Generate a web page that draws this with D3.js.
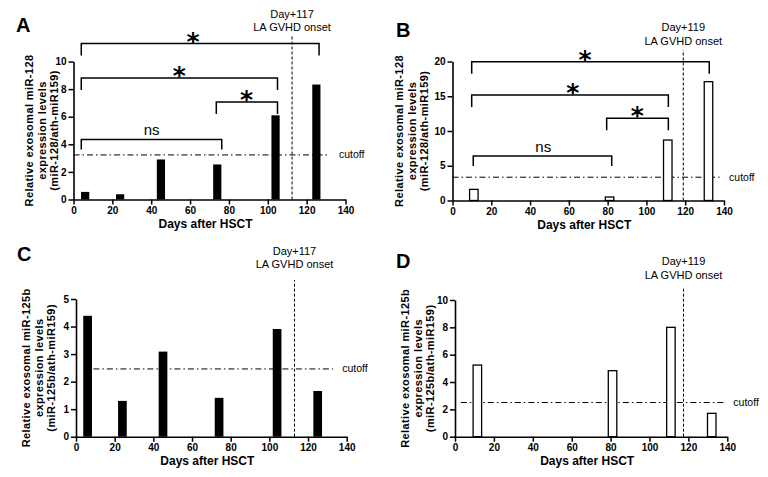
<!DOCTYPE html>
<html><head><meta charset="utf-8">
<script src="https://cdn.jsdelivr.net/npm/d3@7"></script>
<style>
body{margin:0;background:#fff}
svg{display:block}
text{font-family:"Liberation Sans",Arial,Helvetica,sans-serif;fill:#000}
</style>
</head><body>
<svg id="chart" width="768" height="477"></svg>
<script>
// ---------- data ----------
const xTicks = [0, 20, 40, 60, 80, 100, 120, 140];

const daysA = [6, 24, 45, 74, 104, 125];
const valuesA = [0.55, 0.38, 2.9, 2.54, 6.1, 8.33];
const yTicksA = [0, 2, 4, 6, 8, 10];
const cutoffA = 3.23;
const onsetDayA = 112.5;
const onsetLabelA = ["Day+117", "LA GVHD onset"];
const yTitleA = ["Relative exosomal miR-128", "expression levels", "(miR-128/ath-miR159)"];
const bracketsA = [
  {from: 4, to: 126.4, y: 11.3, label: "*", at: 61.5},
  {from: 4, to: 105, y: 8.8, label: "*", at: 54.5},
  {from: 73.5, to: 105, y: 7.07, label: "*", at: 89},
  {from: 4, to: 76.3, y: 4.35, label: "ns", at: 40.2}
];

const daysB = [11, 81, 111, 132];
const valuesB = [1.6, 0.5, 8.7, 17.1];
const yTicksB = [0, 5, 10, 15, 20];
const cutoffB = 3.35;
const onsetDayB = 119;
const onsetLabelB = ["Day+119", "LA GVHD onset"];
const yTitleB = ["Relative exosomal miR-128", "expression levels", "(miR-128/ath-miR159)"];
const bracketsB = [
  {from: 9.9, to: 132.4, y: 19.97, label: "*", at: 68.3},
  {from: 9.9, to: 111.3, y: 15.18, label: "*", at: 62},
  {from: 79.5, to: 111.3, y: 11.83, label: "*", at: 95.3},
  {from: 10.7, to: 82.1, y: 6.4, label: "ns", at: 46.8}
];

const daysC = [6, 24, 45, 74, 104, 125];
const valuesC = [4.39, 1.30, 3.09, 1.41, 3.91, 1.66];
const yTicksC = [0, 1, 2, 3, 4, 5];
const cutoffC = 2.46;
const onsetDayC = 113;
const onsetLabelC = ["Day+117", "LA GVHD onset"];
const yTitleC = ["Relative exosomal miR-125b", "expression levels", "(miR-125b/ath-miR159)"];

const daysD = [11.5, 81, 111, 132];
const valuesD = [5.24, 4.83, 8.0, 1.71];
const yTicksD = [0, 2, 4, 6, 8, 10];
const cutoffD = 2.5;
const onsetDayD = 117.5;
const onsetLabelD = ["Day+119", "LA GVHD onset"];
const yTitleD = ["Relative exosomal miR-125b", "expression levels", "(miR-125b/ath-miR159)"];

const xTitle = "Days after HSCT";
const cutoffLabel = "cutoff";

// ---------- drawing ----------
const svg = d3.select("#chart");
svg.append("rect").attr("width", 768).attr("height", 477).attr("fill", "#fff");

function panel(o) {
  const g = svg.append("g");
  const x = d3.scaleLinear().domain([0, 140]).range([o.x0, o.x1]);
  const y = d3.scaleLinear().domain([0, o.yTicks[o.yTicks.length - 1]]).range([o.y0, o.yTop]);

  // cutoff line
  g.append("line")
    .attr("x1", x(o.cutFrom)).attr("x2", x(o.cutTo))
    .attr("y1", y(o.cutoff)).attr("y2", y(o.cutoff))
    .attr("stroke", "#000").attr("stroke-width", 1)
    .attr("stroke-dasharray", "6,3,1.5,3");
  g.append("text").attr("x", x(o.cutTo) + o.cutTextGap).attr("y", y(o.cutoff) + 3.5)
    .attr("font-size", 10.5).text(cutoffLabel);

  // onset line
  g.append("line")
    .attr("x1", x(o.onset)).attr("x2", x(o.onset))
    .attr("y1", o.y0).attr("y2", o.vTop)
    .attr("stroke", "#000").attr("stroke-width", 1)
    .attr("stroke-dasharray", "3,2");
  o.onsetLabel.forEach((t, i) => {
    g.append("text").attr("x", x(o.onset)).attr("y", o.onsetY[i])
      .attr("text-anchor", "middle").attr("font-size", 11).text(t);
  });

  // bars
  const rows = o.days.map((d, i) => ({d, v: o.values[i]}));
  g.selectAll("rect.bar").data(rows).join("rect").attr("class", "bar")
    .attr("x", r => x(r.d) - o.bw / 2).attr("width", o.bw)
    .attr("y", r => y(r.v)).attr("height", r => y(0) - y(r.v))
    .attr("fill", o.fill)
    .attr("stroke", "#000").attr("stroke-width", o.fill === "#000" ? 0 : 1.3);

  // axes
  const fmt = d3.format("d");
  const xa = d3.axisBottom(x).tickValues(xTicks).tickFormat(fmt).tickSize(5).tickPadding(2).tickSizeOuter(0);
  const ya = d3.axisLeft(y).tickValues(o.yTicks).tickFormat(fmt).tickSize(5).tickPadding(2).tickSizeOuter(0);
  const gx = g.append("g").attr("transform", `translate(0,${o.y0})`).call(xa);
  const gy = g.append("g").attr("transform", `translate(${o.x0},0)`).call(ya);
  [gx, gy].forEach(a => {
    a.select(".domain").attr("stroke", "#000").attr("stroke-width", 1.6);
    a.selectAll(".tick line").attr("stroke", "#000").attr("stroke-width", 1.5);
    a.selectAll(".tick text").attr("font-size", 10).attr("font-weight", "bold")
      .attr("fill", "#000").style("font-family", '"Liberation Sans",Arial,sans-serif');
  });

  // axis titles
  g.append("text").attr("x", (o.x0 + o.x1) / 2 - 4).attr("y", o.y0 + 28)
    .attr("text-anchor", "middle").attr("font-size", 12).attr("font-weight", "bold").text(xTitle);
  const cy = (o.y0 + o.yTop) / 2;
  o.yTitle.forEach((t, i) => {
    g.append("text").attr("transform", `translate(${o.yTitleX + i * 12.5},${cy}) rotate(-90)`)
      .attr("text-anchor", "middle").attr("font-size", 11).attr("font-weight", "bold")
      .attr("letter-spacing", 0.4).text(t);
  });

  // panel letter
  g.append("text").attr("x", o.letterX).attr("y", o.letterY)
    .attr("font-size", 20).attr("font-weight", "bold").text(o.letter);

  // brackets
  (o.brackets || []).forEach(b => {
    const yy = y(b.y);
    const drop = b.label === "*" ? 12 : 10;
    g.append("path")
      .attr("d", `M${x(b.from)},${yy + drop}V${yy}H${x(b.to)}V${yy + drop}`)
      .attr("fill", "none").attr("stroke", "#000").attr("stroke-width", 1.5);
    if (b.label === "*") {
      g.append("text").attr("x", x(b.at)).attr("y", yy + 6)
        .attr("text-anchor", "middle").attr("font-size", 25).attr("font-weight", "bold")
        .style("font-family", '"DejaVu Sans",sans-serif').text(b.label);
    } else {
      g.append("text").attr("x", x(b.at)).attr("y", yy - 4)
        .attr("text-anchor", "middle").attr("font-size", 15).text(b.label);
    }
  });
}

panel({letter: "A", letterX: 16, letterY: 32,
  x0: 73.5, x1: 345.5, y0: 199.5, yTop: 61.5, yTicks: yTicksA,
  days: daysA, values: valuesA, fill: "#000", bw: 8.2,
  cutoff: cutoffA, cutFrom: 0, cutTo: 132, cutTextGap: 9,
  onset: onsetDayA, onsetLabel: onsetLabelA, onsetY: [18, 31], vTop: 36,
  yTitle: yTitleA, yTitleX: 33, brackets: bracketsA});

panel({letter: "B", letterX: 396, letterY: 36.5,
  x0: 452.5, x1: 724, y0: 200.5, yTop: 61.5, yTicks: yTicksB,
  days: daysB, values: valuesB, fill: "#fff", bw: 8.5,
  cutoff: cutoffB, cutFrom: 0, cutTo: 139, cutTextGap: 7,
  onset: onsetDayB, onsetLabel: onsetLabelB, onsetY: [30.5, 44.5], vTop: 50,
  yTitle: yTitleB, yTitleX: 403, brackets: bracketsB});

panel({letter: "C", letterX: 17, letterY: 261,
  x0: 76, x1: 346.7, y0: 436.7, yTop: 299, yTicks: yTicksC,
  days: daysC, values: valuesC, fill: "#000", bw: 8.7,
  cutoff: cutoffC, cutFrom: 9, cutTo: 133, cutTextGap: 9,
  onset: onsetDayC, onsetLabel: onsetLabelC, onsetY: [255, 268], vTop: 280,
  yTitle: yTitleC, yTitleX: 30, brackets: []});

panel({letter: "D", letterX: 396, letterY: 268,
  x0: 455, x1: 727.3, y0: 436.7, yTop: 300, yTicks: yTicksD,
  days: daysD, values: valuesD, fill: "#fff", bw: 8.5,
  cutoff: cutoffD, cutFrom: 3, cutTo: 139.5, cutTextGap: 7,
  onset: onsetDayD, onsetLabel: onsetLabelD, onsetY: [265, 279], vTop: 288,
  yTitle: yTitleD, yTitleX: 409, brackets: []});
</script>
</body></html>
